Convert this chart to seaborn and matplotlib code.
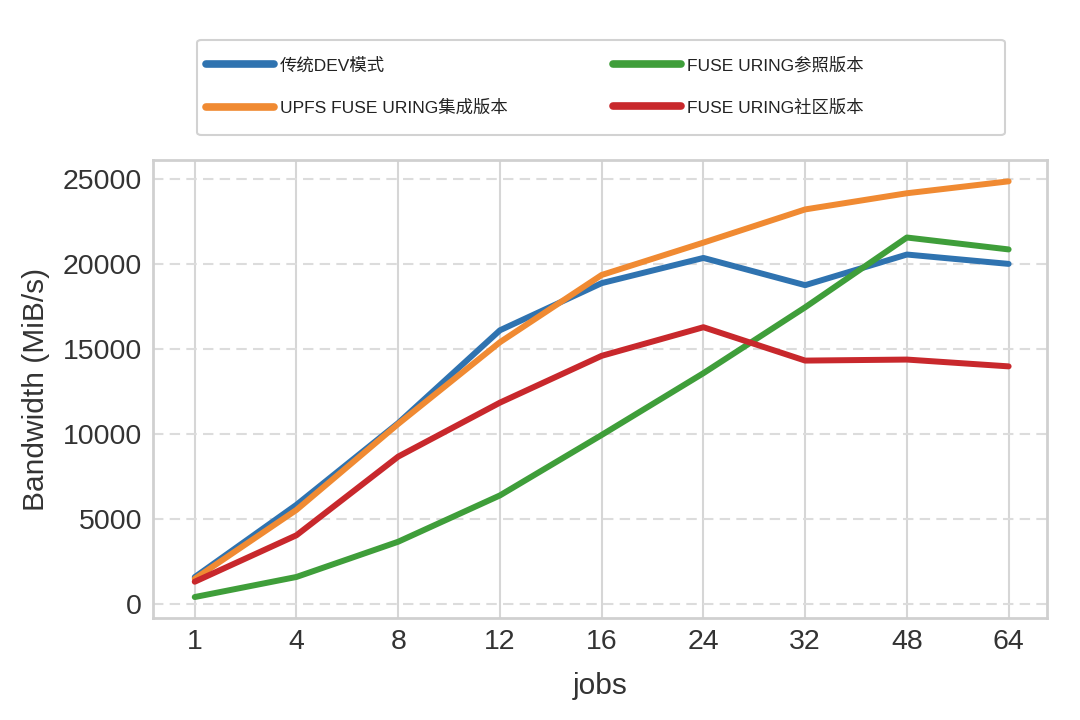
import pandas as pd
import matplotlib
matplotlib.use('Agg')
import matplotlib.pyplot as plt
from matplotlib.patches import FancyBboxPatch
import seaborn as sns

# data
jobs = ['1', '4', '8', '12', '16', '24', '32', '48', '64']
dev_mode = [1600, 5850, 10650, 16100, 18870, 20350, 18750, 20550, 20000]
upfs_uring = [1500, 5550, 10600, 15400, 19350, 21250, 23200, 24150, 24850]
ref_uring = [430, 1610, 3680, 6400, 9950, 13580, 17450, 21550, 20850]
community_uring = [1330, 4060, 8680, 11850, 14600, 16280, 14320, 14380, 13980]

series_names = ['传统DEV模式', 'UPFS FUSE URING集成版本', 'FUSE URING参照版本', 'FUSE URING社区版本']
series_vals = [dev_mode, upfs_uring, ref_uring, community_uring]
colors = ['#2f73b0', '#f08a32', '#3f9e3a', '#c8282c']

rows = []
for name, vals in zip(series_names, series_vals):
    for j, v in zip(jobs, vals):
        rows.append({'jobs': j, 'bw': v, 'series': name})
df = pd.DataFrame(rows)

sns.set_style('whitegrid')
plt.rcParams['font.family'] = ['Liberation Sans', 'Noto Sans CJK SC', 'DejaVu Sans']

fig = plt.figure(figsize=(10.8, 7.2), dpi=100)
ax = fig.add_axes([0.1417, 0.1417, 0.828, 0.636])

sns.lineplot(data=df, x='jobs', y='bw', hue='series', hue_order=series_names,
             palette=colors, linewidth=4.3, sort=False, ax=ax, legend=True)

ax.set_xlim(-0.41, 8.38)
ax.set_ylim(-800, 26100)
ax.set_yticks([0, 5000, 10000, 15000, 20000, 25000])
ax.tick_params(axis='both', labelsize=20.5, colors='#333333', length=0, pad=8)
ax.set_xlabel('jobs', fontsize=21.5, color='#333333', labelpad=12)
ax.set_ylabel('Bandwidth (MiB/s)', fontsize=21.5, color='#333333', labelpad=9)

ax.grid(axis='x', color='#d6d6d6', linewidth=1.5, linestyle='-')
ax.grid(axis='y', color='#dcdcdc', linewidth=1.5, linestyle=(0, (5, 3)))
for s in ax.spines.values():
    s.set_color('#d0d0d0')
    s.set_linewidth(2)

handles, labels = ax.get_legend_handles_labels()
ax.legend_.remove()

# legend box drawn separately, it is wider than the entries
box = FancyBboxPatch((197 / 1080, 1 - 135 / 720), 808 / 1080, 95 / 720,
                     boxstyle='round,pad=0,rounding_size=0.004',
                     transform=fig.transFigure, facecolor='white',
                     edgecolor='#d2d2d2', linewidth=1.5, zorder=0)
fig.patches.append(box)

leg = fig.legend(handles, labels, loc='upper left', ncol=2,
                 bbox_to_anchor=(206 / 1080, 1 - 57 / 720),
                 fontsize=12.5, handlelength=3.9, handletextpad=0.35,
                 borderpad=0, borderaxespad=0, labelspacing=1.5,
                 columnspacing=6.1, frameon=False)
for line in leg.get_lines():
    line.set_linewidth(5.5)
    line.set_solid_capstyle('round')
for t in leg.get_texts():
    t.set_color('#222222')

fig.savefig('out.png', dpi=100, facecolor='white')
